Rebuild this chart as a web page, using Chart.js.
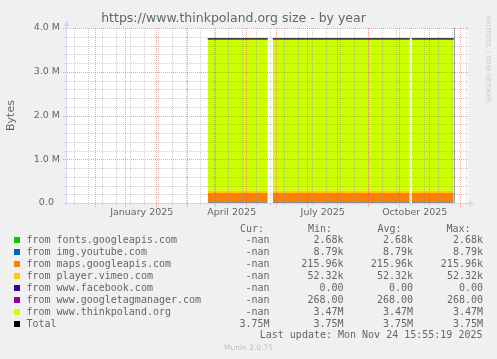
<!DOCTYPE html>
<html><head><meta charset="utf-8">
<script src="https://cdn.jsdelivr.net/npm/chart.js@4/dist/chart.umd.min.js"></script>
<style>
html,body{margin:0;padding:0;background:#f0f0f0;}
#wrap{position:relative;width:497px;height:359px;overflow:hidden;background:#f0f0f0;}
canvas{position:absolute;left:0;top:0;}
.m{position:absolute;font-family:"DejaVu Sans Mono",monospace;font-size:10px;line-height:12px;color:#666;white-space:pre;}
.sw{position:absolute;width:6px;height:6px;}
#rrd{position:absolute;left:484px;top:15px;writing-mode:vertical-rl;font-family:"DejaVu Sans",sans-serif;font-size:6.8px;color:#c8c8c8;white-space:pre;line-height:8px;}
#wm{position:absolute;left:0;width:497px;top:343px;text-align:center;font-family:"DejaVu Sans",sans-serif;font-size:7.5px;color:#bdbdbd;line-height:10px;}
</style></head>
<body>
<div id="wrap">
<canvas id="c" width="497" height="359"></canvas>
<div id="legend"></div>
<div id="rrd">RRDTOOL / TOBI OETIKER</div>
<div id="wm">Munin 2.0.75</div>
</div>
<script>
// ---- data ----
const chartTitle = 'https://www.thinkpoland.org size - by year';
const yAxisTitle = 'Bytes';
const seriesNames = ['from fonts.googleapis.com','from img.youtube.com','from maps.googleapis.com','from player.vimeo.com','from www.facebook.com','from www.googletagmanager.com','from www.thinkpoland.org'];
const seriesValues = [2680, 8790, 215960, 52320, 0, 268, 3470000];
const totalName = 'Total';
const totalValue = 3750000;
const curStats = ['-nan','-nan','-nan','-nan','-nan','-nan','-nan','3.75M'];
const minStats = ['2.68k','8.79k','215.96k','52.32k','0.00','268.00','3.47M','3.75M'];
const avgStats = ['2.68k','8.79k','215.96k','52.32k','0.00','268.00','3.47M','3.75M'];
const maxStats = ['2.68k','8.79k','215.96k','52.32k','0.00','268.00','3.47M','3.75M'];
const statHeaders = ['Cur:','Min:','Avg:','Max:'];
const dataSegments = [['2025-03-08','2025-05-07'],['2025-05-12','2025-09-26'],['2025-09-28','2025-11-09']];
const monthLabelDates = ['2025-01-01','2025-04-01','2025-07-01','2025-10-01'];
const monthLabels = ['January 2025','April 2025','July 2025','October 2025'];
const yTickValues = [0, 1000000, 2000000, 3000000, 4000000];
const yTickLabels = ['0.0  ','1.0 M','2.0 M','3.0 M','4.0 M'];
const lastUpdate = 'Last update: Mon Nov 24 15:55:19 2025';

// ---- styles ----
const seriesColors = ['#00cc00','#0066b3','#ff8000','#ffcc00','#330099','#990099','#ccff00'];
const totalColor = '#000000';
const AXIS_START = Date.UTC(2024, 9, 18, 6);
const DAY = 86400000;
const RANGE_DAYS = 400;
const dayOf = s => (Date.parse(s + 'T00:00:00Z') - AXIS_START) / DAY;
const dayOfTs = t => (t - AXIS_START) / DAY;

function segData(v) {
  const pts = [];
  dataSegments.forEach((s, i) => {
    if (i > 0) pts.push({x: (dayOf(dataSegments[i-1][1]) + dayOf(s[0])) / 2, y: null});
    pts.push({x: dayOf(s[0]), y: v});
    pts.push({x: dayOf(s[1]), y: v});
  });
  return pts;
}

const datasets = seriesNames.map((n, i) => ({
  label: n, data: segData(seriesValues[i]), backgroundColor: seriesColors[i],
  borderColor: 'transparent', borderWidth: 0, pointRadius: 0, fill: i === 0 ? 'origin' : '-1',
  stack: 'bytes', order: 0, spanGaps: false, tension: 0
}));
datasets.push({label: totalName, data: segData(totalValue), borderColor: totalColor, backgroundColor: totalColor,
  borderWidth: 1.3, fill: false, pointRadius: 0, stack: 'total', order: -1, spanGaps: false, tension: 0});

const AXIS_COL = '#cfd6f8';
const GRID_COL = 'rgba(143,143,143,0.42)';
const MGRID_COL = 'rgba(222,79,79,0.5)';

function dottedV(ctx, x, y0, y1, col) {
  ctx.fillStyle = col;
  const px = Math.round(x);
  for (let y = Math.round(y0); y <= y1; y += 2) ctx.fillRect(px, y, 1, 1);
}
function dottedH(ctx, y, x0, x1, col) {
  ctx.fillStyle = col;
  const py = Math.round(y);
  for (let x = Math.round(x0); x <= x1; x += 2) ctx.fillRect(x, py, 1, 1);
}

const munin = {
  id: 'munin',
  beforeDraw(chart) {
    const {ctx, chartArea: a} = chart;
    ctx.save();
    ctx.fillStyle = '#f0f0f0';
    ctx.fillRect(0, 0, chart.width, chart.height);
    ctx.fillStyle = '#ffffff';
    ctx.fillRect(a.left, a.top, a.right - a.left + 1, a.bottom - a.top);
    ctx.restore();
  },
  afterDatasetDraw(chart, args) {
    if (args.index !== 0) return;
    const {ctx, chartArea: a, scales: {x, y}} = chart;
    ctx.save();
    // minor horizontal every 0.2M
    for (let v = 0; v <= 4000000; v += 200000) {
      if (v % 1000000 === 0) continue;
      dottedH(ctx, y.getPixelForValue(v), a.left - 2, a.right, GRID_COL);
    }
    // minor vertical every 14 days
    for (let d = 7; d < RANGE_DAYS; d += 14) {
      dottedV(ctx, x.getPixelForValue(d), a.top, a.bottom + 2, GRID_COL);
    }
    // major vertical: mid-month
    for (let k = 0; k < 14; k++) {
      const d = dayOfTs(Date.UTC(2024, 10 + k, 15, 12));
      if (d > 0 && d < RANGE_DAYS) dottedV(ctx, x.getPixelForValue(d), a.top, a.bottom + 3, MGRID_COL);
    }
    // major horizontal
    for (let v = 0; v <= 4000000; v += 1000000) {
      dottedH(ctx, y.getPixelForValue(v), a.left - 4, a.right, MGRID_COL);
    }
    // end-of-data marker
    const lastX = x.getPixelForValue(dayOf(dataSegments[dataSegments.length - 1][1]));
    ctx.fillStyle = '#a0a0a0';
    ctx.fillRect(Math.round(lastX), a.top, 1, a.bottom - a.top);
    ctx.restore();
  },
  afterDraw(chart) {
    const {ctx, chartArea: a} = chart;
    ctx.save();
    ctx.fillStyle = AXIS_COL;
    // y axis
    ctx.fillRect(a.left - 1, a.top - 3, 1, a.bottom - a.top + 6);
    ctx.beginPath();
    ctx.moveTo(a.left - 3.5, a.top - 2); ctx.lineTo(a.left + 2.5, a.top - 2); ctx.lineTo(a.left - 0.5, a.top - 7); ctx.closePath(); ctx.fill();
    // x axis
    ctx.fillRect(a.left - 4, a.bottom, a.right - a.left + 7, 1);
    ctx.beginPath();
    ctx.moveTo(a.right + 2, a.bottom - 2.5); ctx.lineTo(a.right + 2, a.bottom + 3.5); ctx.lineTo(a.right + 7, a.bottom + 0.5); ctx.closePath(); ctx.fill();
    ctx.restore();
  }
};

new Chart(document.getElementById('c'), {
  type: 'line',
  data: {datasets},
  plugins: [munin],
  options: {
    responsive: false, animation: false, devicePixelRatio: 1,
    layout: {padding: {top: 0, right: 30, bottom: 136, left: 0}},
    plugins: {
      legend: {display: false}, tooltip: {enabled: false},
      title: {display: true, text: chartTitle, color: '#666', font: {family: 'DejaVu Sans', size: 12.5, weight: 'normal', lineHeight: 1.2}, padding: {top: 11, bottom: 2}}
    },
    scales: {
      x: {
        type: 'linear', min: 0, max: RANGE_DAYS,
        grid: {display: false, drawTicks: false}, border: {display: false},
        afterBuildTicks: s => { s.ticks = monthLabelDates.map(d => ({value: dayOf(d)})); },
        ticks: {autoSkip: false, maxRotation: 0, padding: 4, color: '#666', font: {family: 'DejaVu Sans', size: 9.5}, callback: (v, i) => monthLabels[i]},
        afterFit: s => { s.height = 20; }
      },
      y: {
        stacked: true, min: 0, max: 4000000,
        grid: {display: false, drawTicks: false}, border: {display: false},
        afterBuildTicks: s => { s.ticks = yTickValues.map(v => ({value: v})); },
        ticks: {padding: 7, color: '#666', font: {family: 'DejaVu Sans', size: 9.5}, callback: (v, i) => yTickLabels[i]},
        title: {display: true, text: yAxisTitle, color: '#666', font: {family: 'DejaVu Sans', size: 11}, padding: {top: 5, bottom: 0}},
        afterFit: s => { s.width = 67; }
      }
    }
  }
});

// ---- legend table ----
const leg = document.getElementById('legend');
function addText(txt, left, right, cy) {
  const d = document.createElement('div');
  d.className = 'm';
  d.textContent = txt;
  d.style.top = (cy - 6) + 'px';
  if (left !== null) d.style.left = left + 'px';
  else { d.style.right = (497 - right) + 'px'; d.style.textAlign = 'right'; }
  leg.appendChild(d);
}
const headerLefts = [240, 308, 377.5, 446.5];
statHeaders.forEach((h, i) => addText(h, headerLefts[i], null, 228.5));
const colRights = [269.5, 343.5, 413, 483];
const names = seriesNames.concat([totalName]);
const colors = seriesColors.concat([totalColor]);
names.forEach((n, i) => {
  const cy = 240 + i * 11.95;
  const sw = document.createElement('div');
  sw.className = 'sw';
  sw.style.left = '14px'; sw.style.top = (cy - 3) + 'px'; sw.style.background = colors[i];
  leg.appendChild(sw);
  addText(n, 26.5, null, cy);
  [curStats, minStats, avgStats, maxStats].forEach((arr, c) => addText(arr[i], null, colRights[c], cy));
});
addText(lastUpdate, null, 482.5, 335);
</script>
</body></html>
